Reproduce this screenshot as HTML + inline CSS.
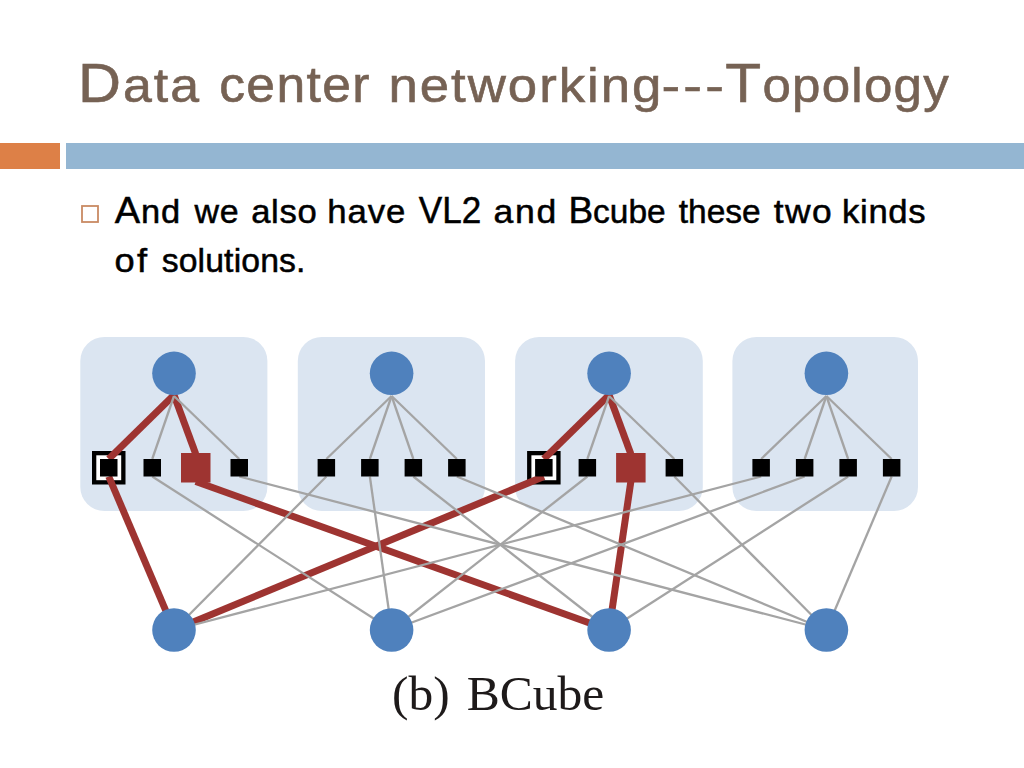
<!DOCTYPE html>
<html><head><meta charset="utf-8"><title>Data center networking---Topology</title>
<style>
html,body{margin:0;padding:0;background:#fff;}
body{width:1024px;height:768px;overflow:hidden;position:relative;}
svg{position:absolute;left:0;top:0;display:block;}
.t{font-family:"Liberation Sans",sans-serif;}
.s{font-family:"Liberation Serif",serif;}
</style></head>
<body>
<svg width="1024" height="768" viewBox="0 0 1024 768">
<rect x="0" y="143" width="60" height="26" fill="#dd8047"/>
<rect x="66" y="143" width="958" height="26" fill="#94b6d2"/>
<text class="t" x="78.30" y="102" fill="#766254" textLength="114.43" lengthAdjust="spacing" transform="matrix(1.0573,0,0,1,-4.746,0)" stroke="#766254" stroke-width="0.6"><tspan font-size="56.3">D</tspan><tspan font-size="49">ata</tspan></text>
<text class="t" x="219.25" y="102" fill="#766254" textLength="142.84" lengthAdjust="spacing" transform="matrix(1.0524,0,0,1,-11.601,0)" stroke="#766254" stroke-width="0.6"><tspan font-size="49">center</tspan></text>
<text class="t" x="388.65" y="102" fill="#766254" textLength="253.49" lengthAdjust="spacing" transform="matrix(1.0772,0,0,1,-30.264,0)" stroke="#766254" stroke-width="0.6"><tspan font-size="49">networking</tspan></text>
<text class="t" x="661.75" y="102" fill="#766254" textLength="54.53" lengthAdjust="spacing" transform="matrix(1.1433,0,0,1,-95.124,0)" stroke="#766254" stroke-width="0.6"><tspan font-size="49">---</tspan></text>
<text class="t" x="725.35" y="102" fill="#766254" textLength="214.35" lengthAdjust="spacing" transform="matrix(1.0423,0,0,1,-30.734,0)" stroke="#766254" stroke-width="0.6"><tspan font-size="56.3">T</tspan><tspan font-size="49">opology</tspan></text>
<rect x="82" y="206" width="16" height="16" fill="none" stroke="#c98a63" stroke-width="1.8"/>
<text class="t" x="114.85" y="222.8" fill="#000" textLength="63.61" lengthAdjust="spacing" transform="matrix(1.0286,0,0,1,-3.289,0)" stroke="#000" stroke-width="0.5"><tspan font-size="37">A</tspan><tspan font-size="33.5">nd</tspan></text>
<text class="t" x="194.60" y="222.8" fill="#000" textLength="43.40" lengthAdjust="spacing" transform="matrix(1.0139,0,0,1,-2.713,0)" stroke="#000" stroke-width="0.5"><tspan font-size="33.5">we</tspan></text>
<text class="t" x="251.20" y="222.8" fill="#000" textLength="63.40" lengthAdjust="spacing" transform="matrix(1.0342,0,0,1,-8.639,0)" stroke="#000" stroke-width="0.5"><tspan font-size="33.5">also</tspan></text>
<text class="t" x="327.35" y="222.8" fill="#000" textLength="75.16" lengthAdjust="spacing" transform="matrix(1.0377,0,0,1,-12.420,0)" stroke="#000" stroke-width="0.5"><tspan font-size="33.5">have</tspan></text>
<text class="t" x="418.75" y="222.8" fill="#000" textLength="65.84" lengthAdjust="spacing" transform="matrix(0.9490,0,0,1,21.361,0)" stroke="#000" stroke-width="0.5"><tspan font-size="37">VL2</tspan></text>
<text class="t" x="493.70" y="222.8" fill="#000" textLength="59.03" lengthAdjust="spacing" transform="matrix(1.0636,0,0,1,-31.513,0)" stroke="#000" stroke-width="0.5"><tspan font-size="33.5">and</tspan></text>
<text class="t" x="568.40" y="222.8" fill="#000" textLength="97.34" lengthAdjust="spacing" transform="matrix(0.9995,0,0,1,0.308,0)" stroke="#000" stroke-width="0.5"><tspan font-size="37">B</tspan><tspan font-size="33.5">cube</tspan></text>
<text class="t" x="678.80" y="222.8" fill="#000" textLength="81.95" lengthAdjust="spacing" transform="matrix(1.0000,0,0,1,0.000,0)" stroke="#000" stroke-width="0.5"><tspan font-size="33.5">these</tspan></text>
<text class="t" x="773.90" y="222.8" fill="#000" textLength="54.82" lengthAdjust="spacing" transform="matrix(1.0562,0,0,1,-43.536,0)" stroke="#000" stroke-width="0.5"><tspan font-size="33.5">two</tspan></text>
<text class="t" x="842.15" y="222.8" fill="#000" textLength="80.75" lengthAdjust="spacing" transform="matrix(1.0351,0,0,1,-29.653,0)" stroke="#000" stroke-width="0.5"><tspan font-size="33.5">kinds</tspan></text>
<text class="t" x="114.75" y="272.4" fill="#000" textLength="29.96" lengthAdjust="spacing" transform="matrix(1.0821,0,0,1,-9.541,0)" stroke="#000" stroke-width="0.5"><tspan font-size="33.5">of</tspan></text>
<text class="t" x="161.70" y="272.4" fill="#000" textLength="142.62" lengthAdjust="spacing" transform="matrix(1.0080,0,0,1,-1.302,0)" stroke="#000" stroke-width="0.5"><tspan font-size="33.5">solutions.</tspan></text>
<rect x="80.3" y="337.0" width="187.1" height="174.0" rx="24" fill="#dbe5f1"/>
<rect x="297.8" y="337.0" width="187.2" height="174.0" rx="24" fill="#dbe5f1"/>
<rect x="515.1" y="337.0" width="187.7" height="174.0" rx="24" fill="#dbe5f1"/>
<rect x="732.4" y="337.0" width="185.6" height="174.0" rx="24" fill="#dbe5f1"/>
<rect x="94.15" y="453.15" width="29.20" height="29.20" fill="#fff" stroke="#000" stroke-width="4.3"/>
<rect x="529.25" y="453.15" width="29.20" height="29.20" fill="#fff" stroke="#000" stroke-width="4.3"/>
<g stroke="#9e3431" stroke-width="7.0" stroke-linecap="butt" fill="none">
<line x1="108.75" y1="459.00" x2="174.00" y2="395.00"/>
<line x1="174.00" y1="395.00" x2="195.75" y2="454.00"/>
<line x1="543.85" y1="459.00" x2="609.10" y2="395.00"/>
<line x1="609.10" y1="395.00" x2="630.85" y2="454.00"/>
<line x1="108.75" y1="476.50" x2="174.00" y2="630.00"/>
<line x1="174.00" y1="630.00" x2="543.85" y2="476.50"/>
<line x1="195.75" y1="481.50" x2="609.10" y2="630.00"/>
<line x1="630.85" y1="481.50" x2="609.10" y2="630.00"/>
</g>
<g stroke="#a4a4a4" stroke-width="2.3" fill="none">
<line x1="174.00" y1="396.00" x2="152.25" y2="459.00"/>
<line x1="174.00" y1="396.00" x2="239.25" y2="459.00"/>
<line x1="391.60" y1="396.00" x2="326.35" y2="459.00"/>
<line x1="391.60" y1="396.00" x2="369.85" y2="459.00"/>
<line x1="391.60" y1="396.00" x2="413.35" y2="459.00"/>
<line x1="391.60" y1="396.00" x2="456.85" y2="459.00"/>
<line x1="609.10" y1="396.00" x2="587.35" y2="459.00"/>
<line x1="609.10" y1="396.00" x2="674.35" y2="459.00"/>
<line x1="826.40" y1="396.00" x2="761.15" y2="459.00"/>
<line x1="826.40" y1="396.00" x2="804.65" y2="459.00"/>
<line x1="826.40" y1="396.00" x2="848.15" y2="459.00"/>
<line x1="826.40" y1="396.00" x2="891.65" y2="459.00"/>
<line x1="326.35" y1="476.50" x2="174.00" y2="630.00"/>
<line x1="761.15" y1="476.50" x2="174.00" y2="630.00"/>
<line x1="152.25" y1="476.50" x2="391.60" y2="630.00"/>
<line x1="369.85" y1="476.50" x2="391.60" y2="630.00"/>
<line x1="587.35" y1="476.50" x2="391.60" y2="630.00"/>
<line x1="804.65" y1="476.50" x2="391.60" y2="630.00"/>
<line x1="413.35" y1="476.50" x2="609.10" y2="630.00"/>
<line x1="848.15" y1="476.50" x2="609.10" y2="630.00"/>
<line x1="239.25" y1="476.50" x2="826.40" y2="630.00"/>
<line x1="456.85" y1="476.50" x2="826.40" y2="630.00"/>
<line x1="674.35" y1="476.50" x2="826.40" y2="630.00"/>
<line x1="891.65" y1="476.50" x2="826.40" y2="630.00"/>
</g>
<rect x="100.00" y="459.0" width="17.5" height="17.5" fill="#000"/>
<rect x="143.50" y="459.0" width="17.5" height="17.5" fill="#000"/>
<rect x="181.00" y="453.00" width="29.5" height="29.5" fill="#9e3431"/>
<rect x="230.50" y="459.0" width="17.5" height="17.5" fill="#000"/>
<rect x="317.60" y="459.0" width="17.5" height="17.5" fill="#000"/>
<rect x="361.10" y="459.0" width="17.5" height="17.5" fill="#000"/>
<rect x="404.60" y="459.0" width="17.5" height="17.5" fill="#000"/>
<rect x="448.10" y="459.0" width="17.5" height="17.5" fill="#000"/>
<rect x="535.10" y="459.0" width="17.5" height="17.5" fill="#000"/>
<rect x="578.60" y="459.0" width="17.5" height="17.5" fill="#000"/>
<rect x="616.10" y="453.00" width="29.5" height="29.5" fill="#9e3431"/>
<rect x="665.60" y="459.0" width="17.5" height="17.5" fill="#000"/>
<rect x="752.40" y="459.0" width="17.5" height="17.5" fill="#000"/>
<rect x="795.90" y="459.0" width="17.5" height="17.5" fill="#000"/>
<rect x="839.40" y="459.0" width="17.5" height="17.5" fill="#000"/>
<rect x="882.90" y="459.0" width="17.5" height="17.5" fill="#000"/>
<circle cx="174.0" cy="373.3" r="21.8" fill="#4f81bd"/>
<circle cx="174.0" cy="630.0" r="21.8" fill="#4f81bd"/>
<circle cx="391.6" cy="373.3" r="21.8" fill="#4f81bd"/>
<circle cx="391.6" cy="630.0" r="21.8" fill="#4f81bd"/>
<circle cx="609.1" cy="373.3" r="21.8" fill="#4f81bd"/>
<circle cx="609.1" cy="630.0" r="21.8" fill="#4f81bd"/>
<circle cx="826.4" cy="373.3" r="21.8" fill="#4f81bd"/>
<circle cx="826.4" cy="630.0" r="21.8" fill="#4f81bd"/>
<text class="s" x="392.05" y="709.5" fill="#1e1a1a" textLength="57.66" lengthAdjust="spacingAndGlyphs"><tspan font-size="49.5">(b)</tspan></text>
<text class="s" x="466.70" y="709.5" fill="#1e1a1a" textLength="137.67" lengthAdjust="spacingAndGlyphs"><tspan font-size="49.5">BCube</tspan></text>
</svg>
</body></html>
